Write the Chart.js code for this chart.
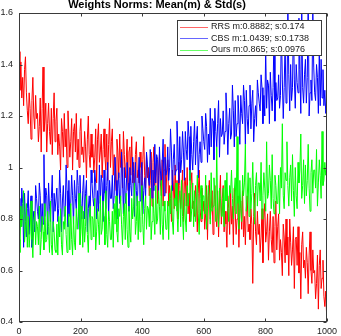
<!DOCTYPE html>
<html>
<head>
<meta charset="utf-8">
<script src="https://cdn.jsdelivr.net/npm/chart.js@4/dist/chart.umd.min.js"></script>
<style>
  html, body { margin: 0; padding: 0; background: #fff; }
  canvas { display: block; }
</style>
</head>
<body>
<canvas id="c" width="341" height="336"></canvas>
<script>
// ---------- data ----------
const titleText = 'Weights Norms: Mean(m) & Std(s)';
const seriesNames = ['RRS m:0.8882; s:0.174', 'CBS m:1.0439; s:0.1738', 'Ours m:0.865; s:0.0976'];
const seriesColors = ['#ff0000', '#0000ff', '#00ff00'];
const iterations = Array.from({ length: 334 }, (_, i) => i * 3);
const xTicks = [0, 200, 400, 600, 800, 1000];
const xTickLabels = ['0', '200', '400', '600', '800', '1000'];
const yTicks = [0.4, 0.6, 0.8, 1, 1.2, 1.4, 1.6];
const yTickLabels = ['0.4', '0.6', '0.8', '1', '1.2', '1.4', '1.6'];

const rrs = [
1.45,1.30,1.41,1.27,1.35,1.24,1.38,1.43,1.29,1.22,
1.17,1.29,1.23,1.11,1.26,1.35,1.20,1.15,1.28,1.19,
1.21,1.10,1.16,1.27,1.06,1.23,1.39,1.14,1.18,1.25,
1.06,1.17,1.25,1.14,1.09,1.23,1.05,1.19,1.29,1.10,
1.18,1.23,1.05,1.13,1.08,0.99,1.19,1.14,1.04,1.21,
1.08,1.15,1.00,1.22,1.13,1.04,1.10,1.19,0.99,1.14,
1.17,1.06,1.21,1.03,1.11,1.00,1.14,1.19,1.05,1.08,
1.02,1.14,1.08,0.96,1.11,1.20,1.05,1.00,1.13,1.04,
1.09,0.98,1.04,1.15,0.94,1.11,1.17,1.02,1.06,1.13,
0.96,1.07,1.15,1.04,0.99,1.13,0.95,1.09,1.19,1.00,
1.10,1.15,0.97,1.05,1.00,0.91,1.11,1.06,0.96,1.13,
1.00,1.07,0.92,1.14,1.05,0.96,1.02,1.11,0.91,1.06,
1.08,0.97,1.12,0.94,1.02,0.91,1.05,1.10,0.96,0.99,
0.94,1.06,1.00,0.88,1.03,1.12,0.97,0.92,1.05,0.96,
1.00,0.89,0.95,1.06,0.85,1.02,1.08,0.93,0.97,1.04,
0.86,0.97,1.05,0.94,0.89,1.03,0.85,0.99,1.09,0.90,
0.98,1.03,0.85,0.93,0.88,0.79,0.99,0.94,0.84,1.01,
0.88,0.95,0.80,1.02,0.93,0.84,0.90,0.99,0.79,0.94,
0.96,0.85,1.00,0.82,0.90,0.79,0.93,0.98,0.84,0.87,
0.81,0.93,0.87,0.75,0.90,0.99,0.84,0.79,0.92,0.83,
0.87,0.76,0.82,0.93,0.72,0.89,0.95,0.80,0.84,0.91,
0.74,0.85,0.93,0.82,0.77,0.91,0.73,0.87,0.97,0.78,
0.88,0.93,0.75,0.83,0.78,0.69,0.89,0.84,0.74,0.91,
0.78,0.85,0.70,0.92,0.83,0.74,0.80,0.89,0.69,0.84,
0.87,0.76,0.91,0.73,0.81,0.70,0.84,0.89,0.75,0.78,
0.72,0.84,0.78,0.55,0.81,0.90,0.75,0.70,0.83,0.74,
0.78,0.67,0.73,0.84,0.63,0.80,0.86,0.71,0.75,0.82,
0.64,0.75,0.83,0.72,0.67,0.81,0.63,0.77,0.87,0.68,
0.77,0.82,0.64,0.72,0.67,0.58,0.78,0.73,0.63,0.80,
0.66,0.73,0.58,0.80,0.71,0.62,0.68,0.77,0.53,0.72,
0.73,0.62,0.77,0.59,0.67,0.49,0.70,0.75,0.61,0.64,
0.57,0.69,0.63,0.51,0.66,0.75,0.60,0.55,0.68,0.59,
0.60,0.49,0.55,0.66,0.45,0.62,0.68,0.53,0.57,0.64,
0.50,0.46,0.52,0.42
];

const cbs = [
0.88,0.81,0.77,0.92,0.86,0.69,0.90,0.79,0.73,0.84,
0.91,0.74,0.84,0.89,0.69,0.78,0.83,0.75,0.93,0.88,
0.83,0.80,0.94,0.89,0.75,0.86,0.78,1.05,0.81,0.92,
0.89,0.74,0.94,0.85,0.79,0.88,0.97,0.75,0.90,0.83,
0.83,0.92,0.79,0.84,0.99,0.90,0.75,0.87,0.93,0.81,
0.82,1.01,0.91,0.77,0.95,0.81,0.86,0.97,0.89,0.78,
0.95,0.88,0.84,0.99,0.93,0.76,0.97,0.86,0.80,0.91,
0.97,0.80,0.90,0.95,0.75,0.84,0.89,0.81,0.99,0.94,
0.88,0.85,0.99,0.94,0.80,0.91,0.83,1.01,0.86,0.97,
0.94,0.79,0.99,0.90,0.84,0.93,1.02,0.80,0.95,0.88,
0.88,0.97,0.84,0.89,1.04,0.95,0.80,0.92,0.98,0.86,
0.87,1.06,0.96,0.82,1.00,0.86,0.91,1.02,0.94,0.83,
1.00,0.93,0.89,1.04,0.98,0.81,1.02,0.91,0.85,0.96,
1.04,0.87,0.97,1.02,0.82,0.91,0.96,0.88,1.06,1.01,
0.96,0.93,1.07,1.02,0.88,0.99,0.91,1.09,0.94,1.05,
1.03,0.88,1.08,0.99,0.93,1.02,1.11,0.89,1.04,0.97,
0.99,1.08,0.95,1.00,1.15,1.06,0.91,1.03,1.09,0.97,
0.99,1.18,1.08,0.94,1.12,0.98,1.03,1.14,1.06,0.95,
1.14,1.07,1.03,1.18,1.12,0.95,1.16,1.05,0.99,1.10,
1.18,1.01,1.11,1.16,0.96,1.05,1.10,1.02,1.20,1.15,
1.10,1.07,1.21,1.16,1.02,1.13,1.05,1.23,1.08,1.19,
1.18,1.03,1.23,1.14,1.08,1.17,1.26,1.04,1.19,1.12,
1.13,1.22,1.09,1.14,1.29,1.20,1.05,1.17,1.23,1.11,
1.13,1.32,1.22,1.08,1.26,1.12,1.17,1.28,1.20,1.09,
1.28,1.21,1.17,1.32,1.26,1.09,1.30,1.19,1.13,1.24,
1.32,1.15,1.25,1.30,1.10,1.19,1.24,1.16,1.34,1.29,
1.25,1.22,1.36,1.31,1.17,1.28,1.20,1.46,1.23,1.34,
1.32,1.17,1.37,1.28,1.22,1.31,1.52,1.18,1.33,1.26,
1.27,1.36,1.23,1.28,1.55,1.34,1.19,1.31,1.49,1.25,
1.27,1.62,1.36,1.22,1.40,1.26,1.31,1.57,1.34,1.23,
1.40,1.33,1.29,1.58,1.38,1.21,1.63,1.31,1.25,1.36,
1.42,1.25,1.35,1.66,1.20,1.29,1.34,1.26,1.61,1.39,
1.29,1.26,1.40,1.35,1.21,1.45,1.24,1.42,1.27,1.38,
1.24,1.30,1.21,1.26
];

const ours = [
0.72,0.67,0.85,0.77,0.82,0.91,0.71,0.76,0.86,0.69,
0.81,0.69,0.75,0.87,0.72,0.65,0.78,0.83,0.70,0.79,
0.77,0.70,0.85,0.66,0.72,0.81,0.75,0.68,0.86,0.71,
0.72,0.83,0.77,0.67,0.87,0.70,0.66,0.79,0.75,0.68,
0.67,0.78,0.66,0.81,0.73,0.84,0.70,0.66,0.79,0.76,
0.85,0.74,0.67,0.77,0.82,0.68,0.86,0.72,0.66,0.81,
0.71,0.68,0.84,0.76,0.81,0.90,0.70,0.75,0.85,0.69,
0.83,0.71,0.77,0.89,0.74,0.67,0.80,0.85,0.72,0.81,
0.80,0.73,0.88,0.68,0.75,0.84,0.78,0.70,0.89,0.74,
0.76,0.87,0.81,0.70,0.91,0.74,0.69,0.83,0.79,0.72,
0.72,0.83,0.69,0.86,0.78,0.89,0.75,0.71,0.84,0.81,
0.89,0.78,0.70,0.81,0.86,0.72,0.90,0.76,0.69,0.85,
0.75,0.71,0.88,0.80,0.85,0.94,0.74,0.79,0.89,0.72,
0.87,0.75,0.81,0.93,0.78,0.70,0.84,0.89,0.76,0.85,
0.84,0.77,0.92,0.72,0.79,0.88,0.82,0.74,0.93,0.78,
0.80,0.91,0.85,0.74,0.95,0.78,0.72,0.87,0.83,0.76,
0.76,0.87,0.72,0.90,0.82,0.93,0.79,0.74,0.88,0.85,
0.94,0.83,0.75,0.86,0.91,0.77,0.95,0.81,0.72,0.90,
0.80,0.75,0.93,0.85,0.90,0.99,0.79,0.84,0.94,0.77,
0.91,0.79,0.85,0.97,0.82,0.74,0.88,0.93,0.80,0.89,
0.89,0.82,0.97,0.76,0.84,0.93,0.87,0.78,0.98,0.83,
0.85,0.96,0.90,0.79,1.08,0.83,0.77,0.92,0.88,0.81,
0.81,0.92,0.77,0.95,0.87,0.98,0.84,0.79,0.93,0.90,
0.99,0.88,0.80,0.91,0.96,0.82,1.12,0.86,0.76,0.95,
0.84,0.79,0.97,0.89,0.94,1.09,0.83,0.88,0.98,0.81,
0.96,0.84,0.90,1.02,0.87,0.78,0.93,0.98,0.85,0.94,
0.94,0.87,1.02,0.80,0.89,0.98,0.92,0.83,1.10,0.88,
0.90,1.01,0.95,0.84,1.05,0.88,0.82,0.97,0.93,0.86,
0.86,0.97,0.82,1.00,0.92,1.17,0.89,0.84,0.98,0.95,
1.10,0.93,0.85,0.96,1.01,0.87,1.05,0.91,0.81,1.00,
0.89,0.84,1.02,0.94,0.99,1.13,0.88,0.93,1.03,0.86,
1.01,0.89,0.95,1.09,0.92,0.83,0.98,1.03,0.90,0.99,
0.99,0.92,1.07,0.85,0.94,1.03,0.97,0.88,1.14,0.93,
0.95,1.02,0.97,1.00
];

// ---------- chart ----------
const FONT = '"Liberation Sans", Arial, Helvetica, sans-serif';
const AXIS_COLOR = '#3a3a3a';

function toPoints(arr) { return arr.map((v, i) => ({ x: iterations[i], y: v })); }

const decor = {
  id: 'decor',
  afterDatasetsDraw(chart) {
    const ctx = chart.ctx;
    const a = chart.chartArea;
    const xs = chart.scales.x, ys = chart.scales.y;
    ctx.save();
    ctx.strokeStyle = AXIS_COLOR;
    ctx.lineWidth = 1;
    const L = Math.round(a.left) + 0.5, R = Math.round(a.right) - 0.5;
    const T = Math.round(a.top) + 0.5, B = Math.round(a.bottom) - 0.5;
    ctx.strokeRect(L, T, R - L, B - T);
    const tl = 3;
    ctx.beginPath();
    xTicks.forEach(v => {
      const px = Math.round(xs.getPixelForValue(v)) + 0.5;
      ctx.moveTo(px, B); ctx.lineTo(px, B - tl);
      ctx.moveTo(px, T); ctx.lineTo(px, T + tl);
    });
    yTicks.forEach(v => {
      const py = Math.round(ys.getPixelForValue(v)) + 0.5;
      ctx.moveTo(L, py); ctx.lineTo(L + tl, py);
      ctx.moveTo(R, py); ctx.lineTo(R - tl, py);
    });
    ctx.stroke();

    // legend
    const lx = 177.5, ly = 20.5, lw = 144, lh = 35;
    ctx.fillStyle = '#fff';
    ctx.fillRect(lx, ly, lw, lh);
    ctx.strokeStyle = AXIS_COLOR;
    ctx.strokeRect(lx, ly, lw, lh);
    ctx.font = '9px ' + FONT;
    ctx.textBaseline = 'middle';
    ctx.textAlign = 'left';
    chart.data.datasets.forEach((ds, i) => {
      const yy = 26.5 + i * 11.5;
      ctx.globalAlpha = 0.6;
      ctx.strokeStyle = ds.borderColor;
      ctx.beginPath();
      ctx.moveTo(180, Math.round(yy) + 0.5);
      ctx.lineTo(208, Math.round(yy) + 0.5);
      ctx.stroke();
      ctx.globalAlpha = 1;
      ctx.fillStyle = '#1a1a1a';
      ctx.fillText(ds.label, 211, yy + 0.5);
    });

    // title
    ctx.font = 'bold 11px ' + FONT;
    ctx.textAlign = 'center';
    ctx.textBaseline = 'alphabetic';
    ctx.fillStyle = '#000';
    ctx.fillText(titleText, 157, 8);
    ctx.restore();
  }
};

const seriesData = [rrs, cbs, ours];
new Chart(document.getElementById('c'), {
  type: 'line',
  data: {
    datasets: seriesData.map((arr, i) => ({
      label: seriesNames[i],
      data: toPoints(arr),
      borderColor: seriesColors[i],
      backgroundColor: seriesColors[i],
      borderWidth: 1,
      pointRadius: 0,
      tension: 0,
      fill: false,
      order: 3 - i
    }))
  },
  options: {
    responsive: false,
    devicePixelRatio: 1,
    animation: false,
    events: [],
    layout: { padding: { left: 0, right: 13, top: 13, bottom: 0 } },
    plugins: { legend: { display: false }, title: { display: false }, tooltip: { enabled: false } },
    scales: {
      x: {
        type: 'linear', min: 0, max: 1000,
        grid: { display: false, drawTicks: false },
        border: { display: false },
        afterBuildTicks: s => { s.ticks = xTicks.map(v => ({ value: v })); },
        afterFit: s => { s.height = 14; },
        ticks: {
          autoSkip: false, maxRotation: 0, padding: 4, color: '#222',
          font: { family: FONT, size: 9 },
          callback: v => xTickLabels[xTicks.indexOf(v)]
        }
      },
      y: {
        type: 'linear', min: 0.4, max: 1.6,
        grid: { display: false, drawTicks: false },
        border: { display: false },
        afterBuildTicks: s => { s.ticks = yTicks.map(v => ({ value: v })); },
        afterFit: s => { s.width = 19; },
        ticks: {
          autoSkip: false, padding: 6, color: '#222',
          font: { family: FONT, size: 9 },
          callback: v => yTickLabels[yTicks.indexOf(v)]
        }
      }
    }
  },
  plugins: [decor]
});
</script>
</body>
</html>
